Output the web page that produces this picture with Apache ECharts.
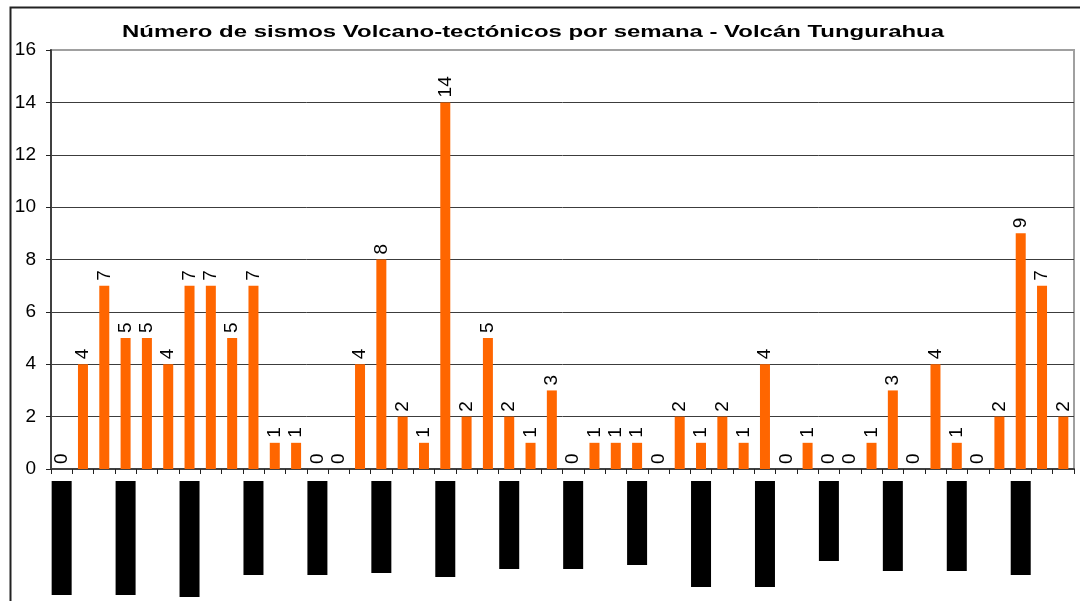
<!DOCTYPE html>
<html>
<head>
<meta charset="utf-8">
<script src="https://cdn.jsdelivr.net/npm/echarts@6/dist/echarts.min.js"></script>
<style>
html,body{margin:0;padding:0;background:#fff;}
#chart{width:1080px;height:601px;}
</style>
</head>
<body>
<div id="chart"></div>
<script>
const chartTitle = "Número de sismos Volcano-tectónicos por semana - Volcán Tungurahua";
const weeks = ["S1","S2","S3","S4","S5","S6","S7","S8","S9","S10","S11","S12",
  "S13","S14","S15","S16","S17","S18","S19","S20","S21","S22","S23","S24",
  "S25","S26","S27","S28","S29","S30","S31","S32","S33","S34","S35","S36",
  "S37","S38","S39","S40","S41","S42","S43","S44","S45","S46","S47","S48"];
const vtCounts = [0,4,7,5,5,4,7,7,5,7,1,1,0,0,4,8,2,1,14,2,5,2,1,3,
  0,1,1,1,0,2,1,2,1,4,0,1,0,0,1,3,0,4,1,0,2,9,7,2];
const yTicks = [0,2,4,6,8,10,12,14,16];

// style: visual length of each (blacked-out) category label
const labelBlockLen = [114,114,116,94,94,92,96,88,88,84,106,106,80,90,90,94];
const rich = {};
labelBlockLen.forEach((L, i) => {
  rich['b' + i] = {width: L, height: 20, lineHeight: 20, backgroundColor: '#000', color: '#000', fontSize: 11, fontFamily: 'Liberation Sans'};
});

// title stretched horizontally like the original (letter-spaced look)
const titleFont = 'bold 17px "Liberation Sans"';
const mctx = document.createElement('canvas').getContext('2d');
mctx.font = titleFont;
const titleScaleX = 822 / mctx.measureText(chartTitle).width;

const chart = echarts.init(document.getElementById('chart'), null, {renderer: 'canvas'});
const splitColors = yTicks.map((v, i) => i === yTicks.length - 1 ? '#a0a0a0' : '#3c3c3c');

chart.setOption({
  backgroundColor: '#fff',
  animation: false,
  graphic: [{
    type: 'rect', left: 8, top: 5, silent: true, z: 100,
    shape: {width: 1200, height: 700},
    style: {fill: 'none', stroke: '#222', lineWidth: 2}
  }, {
    type: 'text', x: 533, y: 32, scaleX: titleScaleX, silent: true, z: 100,
    style: {text: chartTitle, font: titleFont, fill: '#000', textAlign: 'center', textVerticalAlign: 'middle'}
  }],
  grid: {left: 51, right: 6, top: 50, bottom: 132, show: true, borderColor: '#a0a0a0', borderWidth: 2, backgroundColor: 'transparent'},
  xAxis: {
    type: 'category',
    data: weeks,
    boundaryGap: true,
    axisLine: {show: true, lineStyle: {color: '#404040', width: 2}},
    axisTick: {show: true, interval: 0, length: 5, lineStyle: {color: '#222', width: 1}},
    axisLabel: {
      interval: 2, rotate: 90, margin: 12,
      formatter: (val, idx) => '{b' + Math.round(idx / 3) + '|' + val + '}',
      rich: rich
    },
    splitLine: {show: false}
  },
  yAxis: {
    type: 'value', min: 0, max: 16, interval: 2,
    axisLine: {show: true, lineStyle: {color: '#404040', width: 2}},
    axisTick: {show: true, length: 5, lineStyle: {color: '#222'}},
    axisLabel: {margin: 15, fontFamily: 'Liberation Sans', fontSize: 19, color: '#000'},
    splitLine: {show: true, lineStyle: {color: splitColors, width: 1}}
  },
  series: [{
    type: 'bar',
    data: vtCounts,
    barWidth: 10,
    itemStyle: {color: '#FF6600'},
    label: {
      show: true, position: 'top', rotate: 90, align: 'left', verticalAlign: 'middle',
      distance: 5, fontFamily: 'Liberation Sans', fontSize: 19, color: '#000'
    }
  }]
});
</script>
</body>
</html>
